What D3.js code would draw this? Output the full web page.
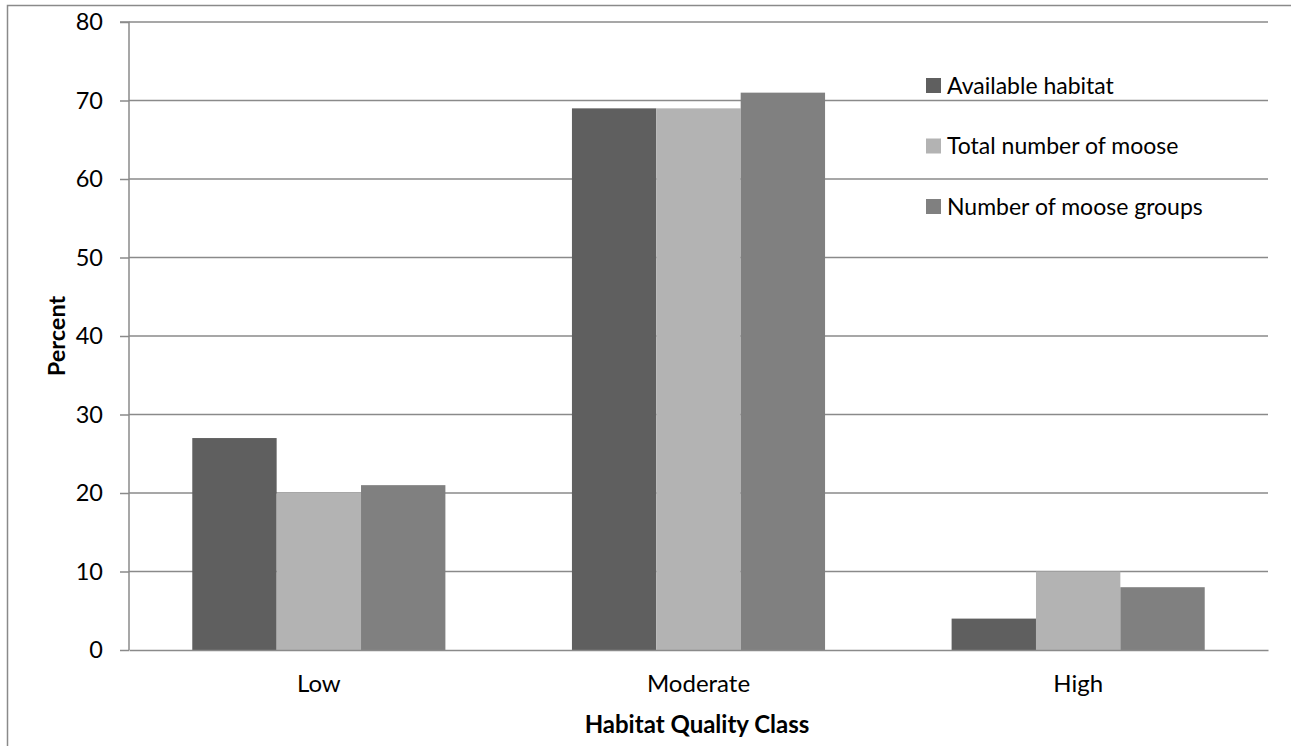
<!DOCTYPE html>
<html>
<head>
<meta charset="utf-8">
<script src="https://cdn.jsdelivr.net/npm/d3@7"></script>
<style>
  html, body { margin: 0; padding: 0; background: #fff; }
  svg { display: block; font-family: Lato, "Open Sans", sans-serif; }
</style>
</head>
<body>
<svg id="chart" width="1291" height="746"></svg>
<script>
// Habitat quality classes and the percentage of each measure falling in them
const categories = ["Low", "Moderate", "High"];
const seriesNames = ["Available habitat", "Total number of moose", "Number of moose groups"];
const availableHabitat = [27, 69, 4];
const totalMoose = [20, 69, 10];
const mooseGroups = [21, 71, 8];
const yTicks = [0, 10, 20, 30, 40, 50, 60, 70, 80];

const seriesValues = [availableHabitat, totalMoose, mooseGroups];
const colors = ["#5f5f5f", "#b3b3b3", "#808080"];

const svg = d3.select("#chart");
const W = 1291, H = 746;
const plot = { left: 129, right: 1268, top: 22, bottom: 650 };
const FONT = "Lato, 'Open Sans', sans-serif";

// outer chart frame
svg.append("rect")
  .attr("x", 7.5).attr("y", 5.5)
  .attr("width", W + 10).attr("height", H + 10)
  .attr("fill", "none").attr("stroke", "#8a8a8a").attr("stroke-width", 1.5);

const x0 = d3.scaleBand().domain(categories).range([plot.left, plot.right])
  .paddingInner(0).paddingOuter(0);
// three bars per group with a 150% gap between groups
const x1 = d3.scaleBand().domain(seriesNames.map((d, i) => i))
  .range([0, x0.bandwidth()]).paddingOuter(0.75).paddingInner(0);
const y = d3.scaleLinear().domain([0, 80]).range([plot.bottom, plot.top]);

// horizontal gridlines
svg.append("g").selectAll("line").data(yTicks.filter(t => t > 0)).join("line")
  .attr("x1", plot.left).attr("x2", plot.right)
  .attr("y1", d => y(d)).attr("y2", d => y(d))
  .attr("stroke", "#8a8a8a").attr("stroke-width", 1.5);

// bars
const groups = svg.append("g").selectAll("g").data(categories).join("g")
  .attr("transform", d => `translate(${x0(d)},0)`);
groups.selectAll("rect")
  .data((c, ci) => seriesValues.map((vals, si) => ({ si, v: vals[ci] })))
  .join("rect")
  .attr("x", d => x1(d.si))
  .attr("width", x1.bandwidth())
  .attr("y", d => y(d.v))
  .attr("height", d => y(0) - y(d.v))
  .attr("fill", d => colors[d.si]);

// y axis
const yAxis = d3.axisLeft(y).tickValues(yTicks).tickSize(9).tickPadding(17);
const gy = svg.append("g").attr("transform", `translate(${plot.left},0)`).call(yAxis);
gy.select(".domain").attr("stroke", "#8a8a8a").attr("stroke-width", 1.5)
  .attr("d", `M-9,${plot.top}H0V${plot.bottom}`);
gy.selectAll(".tick line").attr("stroke", "#8a8a8a").attr("stroke-width", 1.5);
gy.selectAll(".tick text").attr("font-size", 23.5).attr("fill", "#000")
  .attr("font-family", FONT);

// x axis baseline and category labels
const gx = svg.append("g").attr("transform", `translate(0,${plot.bottom})`)
  .call(d3.axisBottom(x0).tickSize(0).tickPadding(25));
gx.select(".domain").attr("stroke", "#8a8a8a").attr("stroke-width", 1.5);
gx.selectAll(".tick text").attr("font-size", 24).attr("fill", "#000")
  .attr("font-family", FONT);

// axis titles
svg.append("text")
  .attr("transform", `translate(65,${(plot.top + plot.bottom) / 2}) rotate(-90)`)
  .attr("text-anchor", "middle").attr("font-size", 23.5).attr("font-weight", "bold")
  .text("Percent");
svg.append("text")
  .attr("x", 697).attr("y", 733)
  .attr("text-anchor", "middle").attr("font-size", 24).attr("font-weight", "bold")
  .text("Habitat Quality Class");

// legend
const legend = svg.append("g").attr("transform", "translate(926,85.5)");
const items = legend.selectAll("g").data(seriesNames).join("g")
  .attr("transform", (d, i) => `translate(0,${i * 60.5})`);
items.append("rect").attr("x", 0).attr("y", -7.5).attr("width", 15).attr("height", 15)
  .attr("fill", (d, i) => colors[i]);
items.append("text").attr("x", 21).attr("y", 0).attr("dy", "0.35em")
  .attr("font-size", 23).text(d => d);
</script>
</body>
</html>
